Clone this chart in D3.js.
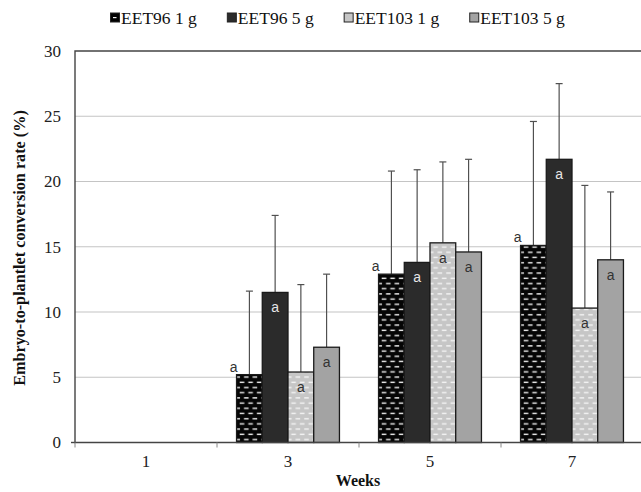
<!DOCTYPE html>
<html>
<head>
<meta charset="utf-8">
<script src="https://cdn.jsdelivr.net/npm/d3@7"></script>
<style>
  body { margin: 0; background: #fff; }
  svg { display: block; }
</style>
</head>
<body>
<div id="chart"></div>
<script>
// datos
const weeks = ["1", "3", "5", "7"];
const seriesNames = ["EET96 1 g", "EET96 5 g", "EET103 1 g", "EET103 5 g"];
const eet96_1g = [null, 5.2, 12.9, 15.1];
const eet96_5g = [null, 11.5, 13.8, 21.7];
const eet103_1g = [null, 5.4, 15.3, 10.3];
const eet103_5g = [null, 7.3, 14.6, 14.0];
// desviacion (solo barra superior)
const sd96_1g = [null, 6.4, 7.9, 9.5];
const sd96_5g = [null, 5.9, 7.1, 5.8];
const sd103_1g = [null, 6.7, 6.2, 9.4];
const sd103_5g = [null, 5.6, 7.1, 5.2];
const letters = ["a", "a", "a", "a"];
const yTicks = [0, 5, 10, 15, 20, 25, 30];

const means = [eet96_1g, eet96_5g, eet103_1g, eet103_5g];
const sds = [sd96_1g, sd96_5g, sd103_1g, sd103_5g];

const width = 641;
const height = 492;
const margin = { top: 51, right: -2, bottom: 49.5, left: 75 };
const serif = "'Liberation Serif', 'Times New Roman', serif";

const fills = ["url(#pat-black)", "#2b2b2b", "url(#pat-light)", "#a3a3a3"];

const svg = d3.select("#chart")
  .append("svg")
  .attr("width", width)
  .attr("height", height);

// patrones de rayitas
const defs = svg.append("defs");
function makePattern(id, bg, dash) {
  const p = defs.append("pattern")
    .attr("id", id)
    .attr("patternUnits", "userSpaceOnUse")
    .attr("width", 8.6)
    .attr("height", 10.4);
  p.append("rect").attr("width", 8.6).attr("height", 10.4).attr("fill", bg);
  [[1.2, 2], [5.5, 7.2], [-3.1, 7.2]].forEach(([x, y]) => {
    p.append("rect")
      .attr("x", x).attr("y", y)
      .attr("width", 4.6).attr("height", 1.4)
      .attr("fill", dash);
  });
}
makePattern("pat-black", "#050505", "#f0f0f0");
makePattern("pat-light", "#c6c6c6", "#f4f4f4");

const x0 = d3.scaleBand()
  .domain(weeks)
  .range([margin.left, width - margin.right])
  .padding(0);

const x1 = d3.scaleBand()
  .domain(seriesNames)
  .range([0, x0.bandwidth()])
  .paddingInner(0)
  .paddingOuter(0.76);

const y = d3.scaleLinear()
  .domain([0, 30])
  .range([height - margin.bottom, margin.top]);

// grilla
svg.append("g")
  .selectAll("line")
  .data(yTicks.filter((t) => t > 0 && t < 30))
  .join("line")
  .attr("x1", margin.left)
  .attr("x2", width)
  .attr("y1", (d) => y(d))
  .attr("y2", (d) => y(d))
  .attr("stroke", "#c4c4c4")
  .attr("stroke-width", 1.2);

// eje Y
const yAxis = svg.append("g")
  .attr("transform", `translate(${margin.left},0)`)
  .call(d3.axisLeft(y).tickValues(yTicks).tickSize(0).tickPadding(14));
yAxis.select(".domain").remove();
yAxis.selectAll("text")
  .attr("font-family", serif)
  .attr("font-size", 17)
  .attr("fill", "#222");

// barras
const groups = svg.append("g")
  .selectAll("g")
  .data(weeks)
  .join("g")
  .attr("transform", (d) => `translate(${x0(d)},0)`);

const cells = groups.selectAll("g")
  .data((w, wi) => seriesNames.map((s, si) => ({
    week: w, serie: s, si: si, value: means[si][wi], sd: sds[si][wi]
  })).filter((d) => d.value != null))
  .join("g");

// barras de error
cells.append("line")
  .attr("x1", (d) => x1(d.serie) + x1.bandwidth() / 2)
  .attr("x2", (d) => x1(d.serie) + x1.bandwidth() / 2)
  .attr("y1", (d) => y(d.value))
  .attr("y2", (d) => y(d.value + d.sd))
  .attr("stroke", "#505050")
  .attr("stroke-width", 1.2);
cells.append("line")
  .attr("x1", (d) => x1(d.serie) + x1.bandwidth() / 2 - 3.5)
  .attr("x2", (d) => x1(d.serie) + x1.bandwidth() / 2 + 3.5)
  .attr("y1", (d) => y(d.value + d.sd))
  .attr("y2", (d) => y(d.value + d.sd))
  .attr("stroke", "#505050")
  .attr("stroke-width", 1.2);

cells.append("rect")
  .attr("x", (d) => x1(d.serie))
  .attr("y", (d) => y(d.value))
  .attr("width", x1.bandwidth())
  .attr("height", (d) => y(0) - y(d.value))
  .attr("fill", (d) => fills[d.si])
  .attr("stroke", "#1a1a1a")
  .attr("stroke-width", 1.3);

// letras
cells.append("text")
  .attr("x", (d) => d.si === 0 ? x1(d.serie) - 3 : x1(d.serie) + x1.bandwidth() / 2)
  .attr("y", (d) => d.si === 0 ? y(d.value) - 3 : y(d.value) + 20)
  .attr("text-anchor", "middle")
  .attr("font-family", "'Liberation Sans', Arial, sans-serif")
  .attr("font-size", 14)
  .attr("fill", (d) => d.si === 1 ? "#e6e6e6" : "#333")
  .text((d) => letters[d.si]);

// marco del area
svg.append("path")
  .attr("d", `M${width + 2},${margin.top}H${margin.left}V${y(0)}H${width + 2}`)
  .attr("fill", "none")
  .attr("stroke", "#444")
  .attr("stroke-width", 1.4);
svg.append("line")
  .attr("x1", margin.left - 4).attr("x2", margin.left)
  .attr("y1", y(0)).attr("y2", y(0))
  .attr("stroke", "#444").attr("stroke-width", 1.4);

// eje X
const xAxis = svg.append("g")
  .attr("transform", `translate(0,${y(0)})`)
  .call(d3.axisBottom(x0).tickSize(0).tickPadding(12));
xAxis.select(".domain").remove();
xAxis.selectAll("text")
  .attr("font-family", serif)
  .attr("font-size", 17)
  .attr("fill", "#222");

svg.append("g")
  .selectAll("line")
  .data(weeks)
  .join("line")
  .attr("x1", (d) => x0(d))
  .attr("x2", (d) => x0(d))
  .attr("y1", y(0))
  .attr("y2", y(0) + 5)
  .attr("stroke", "#888")
  .attr("stroke-width", 1);

// titulos
svg.append("text")
  .attr("x", (margin.left + width) / 2)
  .attr("y", 486)
  .attr("text-anchor", "middle")
  .attr("font-family", serif)
  .attr("font-weight", "bold")
  .attr("font-size", 16)
  .attr("fill", "#111")
  .text("Weeks");

svg.append("text")
  .attr("transform", "translate(25,248) rotate(-90)")
  .attr("text-anchor", "middle")
  .attr("font-family", serif)
  .attr("font-weight", "bold")
  .attr("font-size", 16.2)
  .attr("fill", "#111")
  .text("Embryo-to-plantlet conversion rate (%)");

// leyenda
const legend = svg.append("g").attr("transform", "translate(110,18)");
let lx = 0;
seriesNames.forEach((s, i) => {
  const item = legend.append("g").attr("transform", `translate(${lx},0)`);
  item.append("rect")
    .attr("x", 0.5).attr("y", -5)
    .attr("width", 9).attr("height", 9)
    .attr("fill", i === 0 ? "#000" : fills[i] === "url(#pat-light)" ? "#c6c6c6" : fills[i])
    .attr("stroke", "#222")
    .attr("stroke-width", 1);
  if (i === 0) {
    item.append("rect").attr("x", 3).attr("y", -1).attr("width", 3.5).attr("height", 1.2).attr("fill", "#eee");
  }
  const t = item.append("text")
    .attr("x", 11)
    .attr("y", 5.5)
    .attr("font-family", serif)
    .attr("font-size", 17.5)
    .attr("fill", "#111")
    .text(s);
  lx += 11 + t.node().getComputedTextLength() + 30;
});
</script>
</body>
</html>
